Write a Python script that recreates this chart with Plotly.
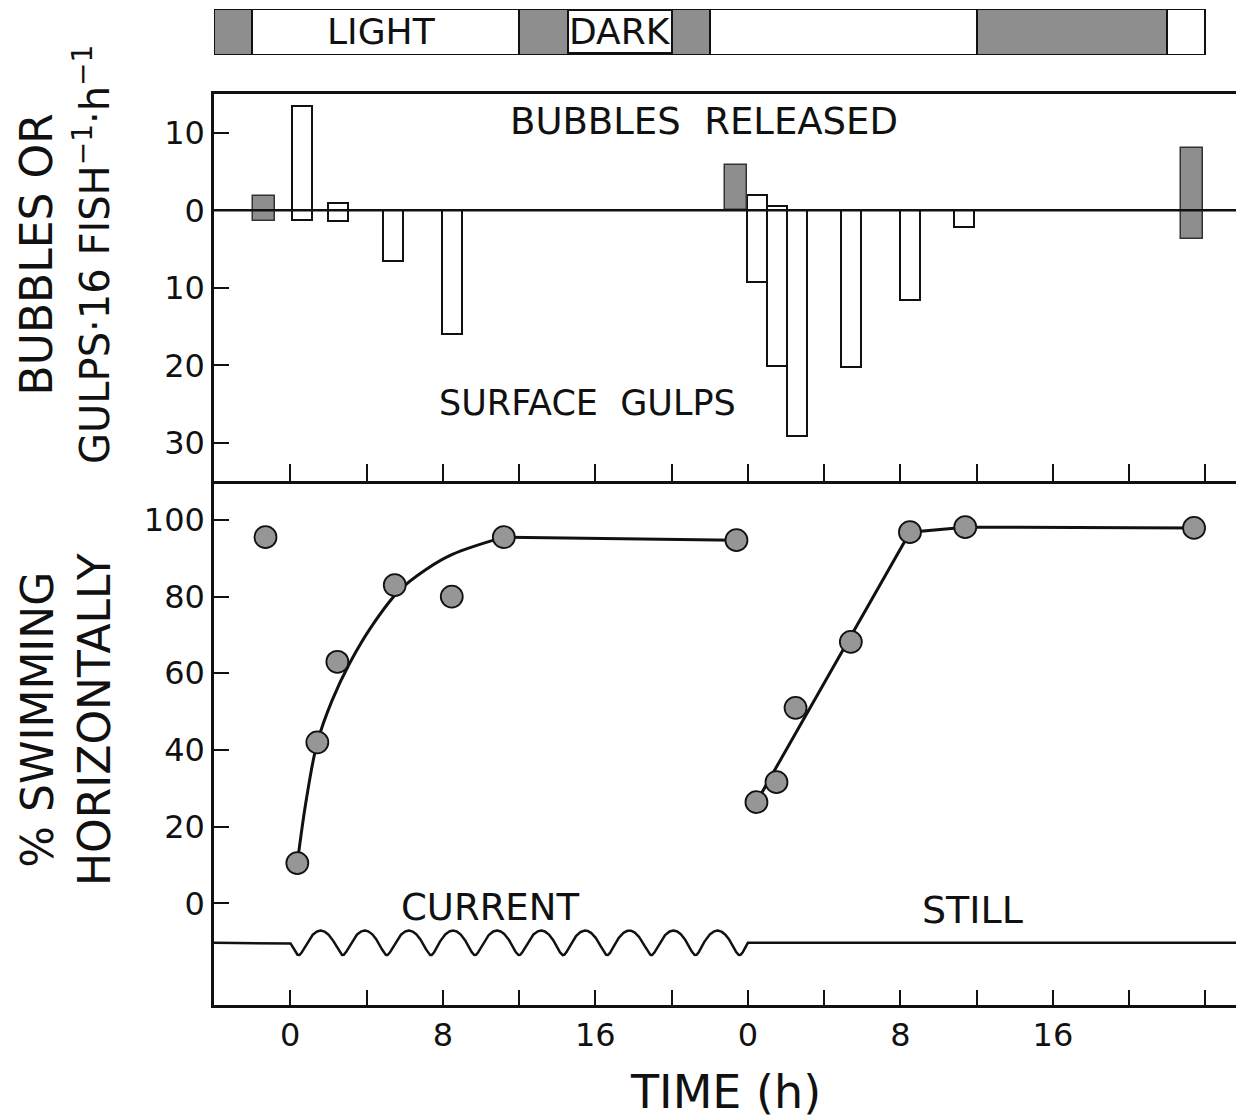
import numpy as np
import plotly.graph_objects as go

# ---------------- data ----------------
# light / dark schedule, hours
ld_start = [-4, -2, 12, 22, 36, 46]
ld_end = [-2, 12, 22, 36, 46, 48]
ld_phase = ["dark", "light", "dark", "light", "dark", "light"]

# bubbles released (up) / surface gulps (down), per 16 fish per hour
ctrl_t = [-1.4, 23.4, 47.3]           # filled bars
ctrl_bubbles = [1.8, 5.9, 8.0]
ctrl_gulps = [1.4, 0.0, 3.7]

test_t = [0.6, 2.5, 5.4, 8.5, 24.5, 25.55, 26.6, 29.4, 32.5, 35.35]   # open bars
test_bubbles = [13.5, 0.95, 0.0, 0.0, 2.0, 0.6, 0.0, 0.0, 0.0, 0.0]
test_gulps = [1.3, 1.4, 6.5, 16.0, 9.2, 20.1, 29.1, 20.2, 11.5, 2.1]

# % swimming horizontally
swim_t = [-1.3, 0.37, 1.42, 2.47, 5.48, 8.47, 11.2, 23.4,
          24.45, 25.5, 26.5, 29.4, 32.5, 35.4, 47.4]
swim_pct = [95.5, 10.5, 42.0, 63.0, 83.0, 80.0, 95.5, 94.7,
            26.4, 31.6, 51.0, 68.2, 96.8, 98.1, 97.9]

# fitted curve under current
fit_current_t = [0.37, 0.84, 1.42, 2.2, 3.1, 4.3, 5.7, 7.1, 8.5, 11.2]
fit_current_pct = [10.5, 27.0, 42.0, 53.0, 62.5, 72.5, 81.5, 87.0, 91.0, 95.5]
plateau_current_t = [11.2, 23.4]
plateau_current_pct = [95.5, 94.7]

# fitted line in still water
fit_still_t = [24.45, 32.5, 35.4, 47.4]
fit_still_pct = [26.4, 96.8, 98.1, 97.9]

# experimental condition periods (h)
current_period = [0, 24]

label_hours = [0, 8, 16, 24, 32, 40]
label_text = ["0", "8", "16", "0", "8", "16"]
tick_hours = [0, 4, 8, 12, 16, 20, 24, 28, 32, 36, 40, 44, 48]
gulp_ticks = [10, 0, -10, -20, -30]
gulp_tick_labels = ["10", "0", "10", "20", "30"]
swim_ticks = [0, 20, 40, 60, 80, 100]

# ---------------- styling ----------------
FONT = "DejaVu Sans"
BLACK = "#111111"
STIPPLE = "#8e8e8e"
X_RANGE = [-4, 49.6]

fig = go.Figure()

# light/dark bar
for s, e, ph in zip(ld_start, ld_end, ld_phase):
    fig.add_trace(go.Bar(
        x=[e - s], base=[s], y=[0.5], orientation="h", width=1.0,
        marker=dict(color=STIPPLE if ph == "dark" else "white",
                    line=dict(color=BLACK, width=2)),
        xaxis="x3", yaxis="y3", showlegend=False, hoverinfo="skip"))

# bars: open (test) and filled (control)
fig.add_trace(go.Bar(
    x=test_t, y=[b + g for b, g in zip(test_bubbles, test_gulps)],
    base=[-g for g in test_gulps], width=1.05,
    marker=dict(color="white", line=dict(color=BLACK, width=2)),
    xaxis="x2", yaxis="y2", showlegend=False))
fig.add_trace(go.Bar(
    x=ctrl_t, y=[b + g for b, g in zip(ctrl_bubbles, ctrl_gulps)],
    base=[-g for g in ctrl_gulps], width=1.15,
    marker=dict(color=STIPPLE, line=dict(color="#333333", width=1.5)),
    xaxis="x2", yaxis="y2", showlegend=False))

# "current" symbol: a row of arches (curtate trochoid) spanning the current period,
# flat line elsewhere ("still")
base_lvl, amp, skew = -10.3, 3.2, 0.38
t0, t1 = current_period
theta = np.linspace(0.5 * np.pi, 21.5 * np.pi, 2400)
u = theta + skew * np.sin(theta)
wave_t = t0 + (t1 - t0) * (u - u[0]) / (u[-1] - u[0])
wave_y = base_lvl + amp * np.cos(theta)
fig.add_trace(go.Scatter(
    x=[X_RANGE[0]] + list(wave_t) + [X_RANGE[1]],
    y=[base_lvl] + list(wave_y) + [base_lvl],
    mode="lines", line=dict(color=BLACK, width=2.5),
    xaxis="x", yaxis="y", showlegend=False, hoverinfo="skip"))

# fitted lines
fig.add_trace(go.Scatter(x=fit_current_t, y=fit_current_pct, mode="lines",
                         line=dict(color=BLACK, width=3, shape="spline", smoothing=1.0),
                         showlegend=False))
fig.add_trace(go.Scatter(x=plateau_current_t, y=plateau_current_pct, mode="lines",
                         line=dict(color=BLACK, width=3), showlegend=False))
fig.add_trace(go.Scatter(x=fit_still_t, y=fit_still_pct, mode="lines",
                         line=dict(color=BLACK, width=3), showlegend=False))

# data points
fig.add_trace(go.Scatter(x=swim_t, y=swim_pct, mode="markers",
                         marker=dict(size=22, color="#969696",
                                     line=dict(color=BLACK, width=1.8)),
                         showlegend=False))

axis_common = dict(showline=True, linecolor=BLACK, linewidth=2.5, showgrid=False,
                   zeroline=False, ticks="inside", tickcolor=BLACK, tickwidth=2,
                   tickfont=dict(family=FONT, size=32, color=BLACK))

H_PLOT = 1005.0
def dom(y_top_px, y_bot_px):
    return [(H_PLOT - y_bot_px) / H_PLOT, (H_PLOT - y_top_px) / H_PLOT]

fig.update_layout(
    width=1236, height=1120,
    margin=dict(l=214, r=0, t=0, b=115),
    paper_bgcolor="white", plot_bgcolor="white",
    font=dict(family=FONT, color=BLACK),
    barmode="overlay", bargap=0,
    xaxis=dict(**axis_common, domain=[0, 1], anchor="y", range=X_RANGE,
               tickvals=label_hours, ticktext=label_text, ticklen=15,
               minor=dict(tick0=0, dtick=4, ticks="inside", ticklen=15,
                          tickwidth=2, tickcolor=BLACK, showgrid=False)),
    yaxis=dict(**axis_common, domain=dom(480, 1005), anchor="x",
               range=[-26.5, 110.4], tickvals=swim_ticks, ticklen=15),
    xaxis2=dict(**axis_common, domain=[0, 1], anchor="y2", matches="x",
                mirror=True, tickvals=tick_hours, showticklabels=False, ticklen=17),
    yaxis2=dict(**axis_common, domain=dom(94, 481), anchor="x2",
                range=[-34.9, 15.0], tickvals=gulp_ticks, ticktext=gulp_tick_labels,
                ticklen=15),
    xaxis3=dict(domain=[0, 1], anchor="y3", matches="x", visible=False),
    yaxis3=dict(domain=dom(9, 55), anchor="x3", range=[0, 1], visible=False),
)

# zero line of the bubbles/gulps panel, drawn over the bars
fig.add_shape(type="line", xref="x2 domain", yref="y2", x0=0, x1=1, y0=0, y1=0,
              line=dict(color=BLACK, width=2.5), layer="above")

def label(text, x, y, xref, yref, size=34, **kw):
    fig.add_annotation(text=text, x=x, y=y, xref=xref, yref=yref, showarrow=False,
                       font=dict(family=FONT, size=size, color=BLACK), **kw)

label("LIGHT", 4.8, 0.5, "x3", "y3", size=36)
label("DARK", 17.3, 0.5, "x3", "y3", size=36, bgcolor="white",
      bordercolor=BLACK, borderwidth=2, borderpad=0)
label("BUBBLES\u00a0\u00a0RELEASED", 21.7, 11.4, "x2", "y2", size=37)
label("SURFACE\u00a0\u00a0GULPS", 15.6, -24.9, "x2", "y2", size=35)
label("CURRENT", 10.5, -1.2, "x", "y", size=37)
label("STILL", 35.8, -1.7, "x", "y", size=38)

W_PLOT = 1022.0
label("BUBBLES OR<br><span style='font-size:40px'>GULPS·16 FISH<sup>−1</sup>·h<sup>−1</sup></span>",
      (65 - 214) / W_PLOT, (H_PLOT - 255) / H_PLOT, "paper", "paper", size=44,
      textangle=-90, xanchor="center", yanchor="middle")
label("% SWIMMING<br>HORIZONTALLY",
      (66 - 214) / W_PLOT, (H_PLOT - 720) / H_PLOT, "paper", "paper", size=44,
      textangle=-90, xanchor="center", yanchor="middle")
label("TIME (h)", 0.5, (H_PLOT - 1092) / H_PLOT, "paper", "paper", size=46,
      xanchor="center", yanchor="middle")

fig.write_html("out.html")
